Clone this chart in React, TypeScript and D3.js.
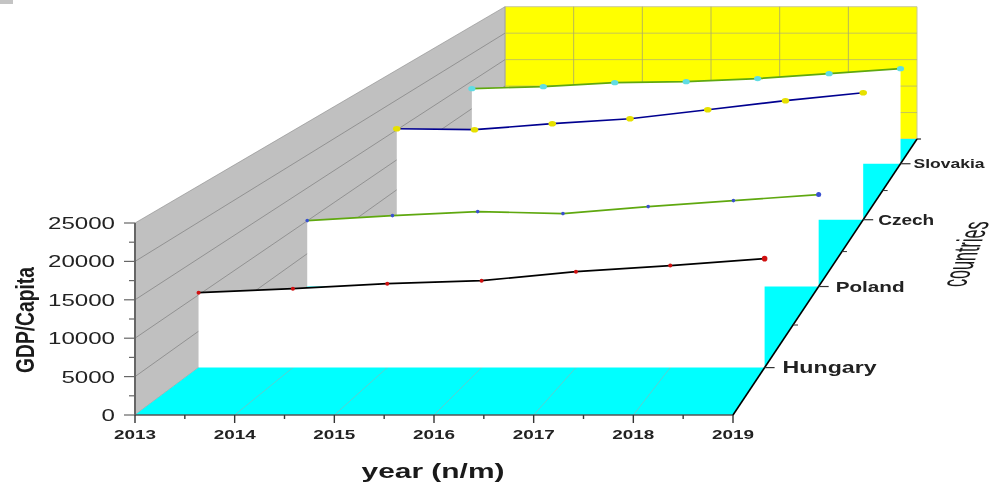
import React from 'react';
import * as d3 from 'd3';

const years = [2013, 2014, 2015, 2016, 2017, 2018, 2019];
const countries = ['Hungary', 'Poland', 'Czech', 'Slovakia'];
const hungary = [10310, 10860, 11550, 11960, 13200, 14030, 14990];
const poland = [10040, 10800, 11410, 11100, 12170, 13080, 14000];
const czech = [15190, 15030, 16030, 16860, 18360, 19870, 21200];
const slovakia = [13640, 14000, 14730, 14910, 15460, 16360, 17270];
const valueTicks = [0, 5000, 10000, 15000, 20000, 25000];
const minorValueTicks = [2500, 7500, 12500, 17500, 22500];
const minorYearTicks = [2013.5, 2014.5, 2015.5, 2016.5, 2017.5, 2018.5];

const seriesList = [
  { name: 'Hungary', values: hungary, line: '#000000', fill: '#d01010', r: 2 },
  { name: 'Poland', values: poland, line: '#5fa80f', fill: '#3a50d0', r: 1.8 },
  { name: 'Czech', values: czech, line: '#000090', fill: '#e6e000', r: 2.8 },
  { name: 'Slovakia', values: slovakia, line: '#5fa80f', fill: '#60dce4', r: 2.6 },
];

const xBase = d3.scaleLinear().domain([2013, 2019]).range([0, 598]);
const yBase = d3.scaleLinear().domain([0, 25000]).range([0, 192]);
const depth = d3.scaleBand<string>().domain(countries).range([0, 1]);
const K = 0.4514;
const S1 = 1 / (1 + K);
const project = (year: number, d: number, value: number): [number, number] => {
  const s = 1 / (1 + K * d);
  const t = (1 - s) / (1 - S1);
  const left = 135 + 370 * t;
  const floorY = 415 - 276 * t;
  return [left + xBase(year) * s, floorY - yBase(value) * s];
};
const poly = (pts: [number, number][]) => pts.map((p) => p.map((v) => v.toFixed(2)).join(',')).join(' ');
const dOf = (c: string) => (depth(c) as number) + depth.bandwidth() / 2;
const Y0 = 2013, Y1 = 2019, VMAX = 25000;
const font = '"Liberation Sans", Arial, sans-serif';
const txt = '#222';

export default function App() {
  const lineGen = d3.line<[number, number]>();
  const edges = [0.25, 0.5, 0.75];
  return (
    <svg width={995} height={484} style={{ position: 'absolute', left: 0, top: 0, filter: 'blur(0.45px)' }} fontFamily={font}>
      <rect x={0} y={0} width={13} height={4} fill="#c4c4c4" />
      {/* back wall */}
      <polygon points={poly([project(Y0, 1, 0), project(Y1, 1, 0), project(Y1, 1, VMAX), project(Y0, 1, VMAX)])} fill="#ffff00" stroke="#c8c8a0" strokeWidth={1} />
      {/* left wall */}
      <polygon points={poly([project(Y0, 0, 0), project(Y0, 1, 0), project(Y0, 1, VMAX), project(Y0, 0, VMAX)])} fill="#c0c0c0" stroke="#8a8a8a" strokeWidth={0.6} />
      {/* floor */}
      <polygon points={poly([project(Y0, 0, 0), project(Y1, 0, 0), project(Y1, 1, 0), project(Y0, 1, 0)])} fill="#00ffff" />
      {/* grids */}
      {valueTicks.slice(1, 5).map((v) => (
        <g key={v} strokeWidth={0.9}>
          <path d={lineGen([project(Y0, 0, v), project(Y0, 1, v)])!} fill="none" stroke="#8c8c8c" />
          <path d={lineGen([project(Y0, 1, v), project(Y1, 1, v)])!} fill="none" stroke="#c0c060" />
        </g>
      ))}
      {years.slice(1, 6).map((y) => (
        <g key={y}>
          <path d={lineGen([project(y, 0, 0), project(y, 1, 0)])!} stroke="#70c4c4" strokeWidth={0.8} fill="none" />
          <path d={lineGen([project(y, 1, 0), project(y, 1, VMAX)])!} stroke="#b0b060" strokeWidth={0.9} fill="none" />
        </g>
      ))}
      {/* walls, back to front */}
      {[...seriesList].reverse().map((s) => {
        const d = dOf(s.name);
        const top = s.values.map((v, i) => project(years[i], d, v));
        return (
          <g key={s.name}>
            <polygon points={poly([project(Y0, d, 0), ...top, project(Y1, d, 0)])} fill="#ffffff" />
            <path d={lineGen(top)!} fill="none" stroke={s.line} strokeWidth={1.7} />
            {top.map((p, i) => {
              const big = s.r < 2.5 && i === top.length - 1 ? 1.4 : 1;
              return <ellipse key={i} cx={p[0]} cy={p[1]} rx={(s.r + (s.r > 2.2 ? 1 : 0)) * big} ry={s.r * big} fill={s.fill} />;
            })}
          </g>
        );
      })}
      {/* value axis */}
      <g stroke="#666" fill="none">
        <path d={lineGen([project(Y0, 0, 0), project(Y0, 0, VMAX)])!} strokeWidth={2} />
        {valueTicks.map((v) => {
          const [x, y] = project(Y0, 0, v);
          return <line key={v} x1={x - 11} x2={x} y1={y} y2={y} strokeWidth={1.2} />;
        })}
        {minorValueTicks.map((v) => {
          const [x, y] = project(Y0, 0, v);
          return <line key={v} x1={x - 6} x2={x} y1={y} y2={y} strokeWidth={1.2} />;
        })}
      </g>
      {valueTicks.map((v) => {
        const [x, y] = project(Y0, 0, v);
        const w = String(v).length * 13.4;
        return (
          <text key={v} x={x - 20} y={y + 6} textAnchor="end" fontSize={16} fill={txt} textLength={w} lengthAdjust="spacingAndGlyphs">{v}</text>
        );
      })}
      {/* year axis */}
      <g stroke="#555" fill="none">
        <path d={lineGen([project(Y0, 0, 0), project(Y1, 0, 0)])!} strokeWidth={1.6} />
        {years.map((y) => {
          const [x, yy] = project(y, 0, 0);
          return <line key={y} x1={x} x2={x} y1={yy} y2={yy + 8} strokeWidth={1.4} stroke="#333" />;
        })}
        {minorYearTicks.map((y) => {
          const [x, yy] = project(y, 0, 0);
          return <line key={y} x1={x} x2={x} y1={yy} y2={yy + 4} strokeWidth={1.4} stroke="#333" />;
        })}
      </g>
      {years.map((y) => {
        const [x, yy] = project(y, 0, 0);
        return (
          <text key={y} x={x} y={yy + 24} textAnchor="middle" fontSize={13} fontWeight="bold" fill={txt} textLength={42} lengthAdjust="spacingAndGlyphs">{y}</text>
        );
      })}
      {/* depth axis */}
      <path d={lineGen([project(Y1, 0, 0), project(Y1, 1, 0)])!} stroke="#000" strokeWidth={1.6} fill="none" />
      <line x1={project(Y1, 1, 0)[0]} x2={project(Y1, 1, 0)[0] + 4} y1={project(Y1, 1, 0)[1]} y2={project(Y1, 1, 0)[1]} stroke="#000" strokeWidth={1} />
      {edges.map((e) => {
        const [x, y] = project(Y1, e, 0);
        return <line key={e} x1={x} x2={x + 5} y1={y} y2={y} stroke="#333" strokeWidth={1} />;
      })}
      {countries.map((c, i) => {
        const [x, y] = project(Y1, dOf(c), 0);
        const fs = [16, 14, 14, 13][i];
        const tl = [94, 69, 56, 71][i];
        const off = [18, 17, 15, 13][i];
        return (
          <g key={c}>
            <line x1={x} x2={x + 10} y1={y} y2={y} stroke="#333" strokeWidth={1.2} />
            <text x={x + off} y={y + fs * 0.36} fontSize={fs} fontWeight="bold" fill={txt} textLength={tl} lengthAdjust="spacingAndGlyphs">{c}</text>
          </g>
        );
      })}
      {/* axis titles */}
      <text x={433} y={478} textAnchor="middle" fontSize={20} fontWeight="bold" fill="#1a1a1a" textLength={143} lengthAdjust="spacingAndGlyphs">year (n/m)</text>
      <text transform="translate(34,320) rotate(-90)" textAnchor="middle" fontSize={25} fontWeight="bold" fill="#1a1a1a" textLength={106} lengthAdjust="spacingAndGlyphs">GDP/Capita</text>
      <text transform="matrix(0.35,-0.937,1,0,965,287)" fontSize={36} fill="#1a1a1a" textLength={70} lengthAdjust="spacingAndGlyphs">countries</text>
    </svg>
  );
}
